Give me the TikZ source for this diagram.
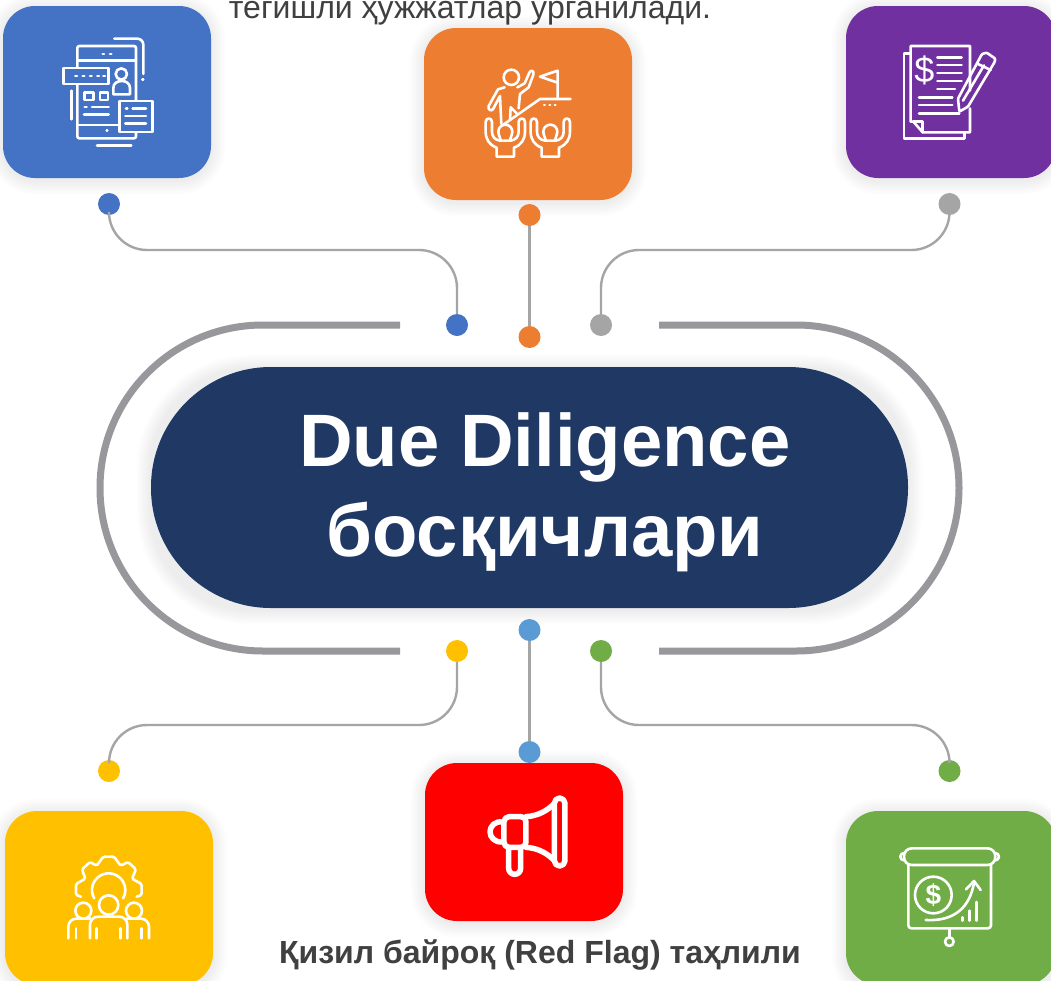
\documentclass[tikz,border=0pt]{standalone}
\usepackage{fontspec}
\setmainfont{Liberation Sans}
\definecolor{cblue}{HTML}{4472C4}
\definecolor{corange}{HTML}{ED7D31}
\definecolor{cpurple}{HTML}{7030A0}
\definecolor{cyellow}{HTML}{FFC000}
\definecolor{cred}{HTML}{FF0000}
\definecolor{cgreen}{HTML}{70AD47}
\definecolor{cgrey}{HTML}{A5A5A5}
\definecolor{clblue}{HTML}{5B9BD5}
\definecolor{cnavy}{HTML}{1F3864}
\definecolor{cring}{HTML}{98989C}
\definecolor{ctext}{HTML}{404040}
\newcommand{\softshade}[5]{%
  \foreach \i in {1,...,9}{%
    \fill[black,opacity=0.009,rounded corners={#5+\i*1.6pt}]
      ({#1-\i*1.6},{#2-\i*1.6+2}) rectangle ({#3+\i*1.6},{#4+\i*1.6+2});
  }}
\tikzset{
  card/.style={rectangle,rounded corners=32pt,inner sep=0pt,outer sep=0pt},
  dotn/.style={circle,inner sep=0pt,outer sep=0pt,minimum size=22pt},
  wire/.style={draw=cgrey,line width=2.4pt,rounded corners=38pt},
  straightwire/.style={draw=cgrey,line width=2.4pt},
  ring/.style={draw=cring,line width=7pt},
  ico/.style={draw=white,line width=2.6pt,line cap=round,line join=round},
  icob/.style={ico,line width=5.5pt},
}
\begin{document}
\begin{tikzpicture}[x=1pt,y=-1pt]
\useasboundingbox (0,0) rectangle (1051,980);
\clip (0,0) rectangle (1051,980);
\fill[white] (0,0) rectangle (1051,980);

% top clipped text
\node[anchor=base,text=ctext,font=\fontsize{32}{36}\selectfont,inner sep=0pt] (toptext) at (470,18) {тегишли ҳужжатлар ўрганилади.};

% shadows
\softshade{3}{6}{211}{178}{32pt}
\softshade{424}{28}{632}{200}{32pt}
\softshade{846}{6}{1056}{178}{32pt}
\softshade{5}{811}{213}{985}{32pt}
\softshade{425}{763}{623}{921}{32pt}
\softshade{846}{811}{1056}{985}{32pt}
\softshade{151}{367}{908}{608}{100pt}

% cards
\node[card,fill=cblue,minimum width=208pt,minimum height=172pt] (c1) at (107,92) {};
\node[card,fill=corange,minimum width=208pt,minimum height=172pt] (c2) at (528,114) {};
\node[card,fill=cpurple,minimum width=210pt,minimum height=172pt] (c3) at (951,92) {};
\node[card,fill=cyellow,minimum width=208pt,minimum height=174pt] (c4) at (109,898) {};
\node[card,fill=cred,minimum width=198pt,minimum height=158pt] (c5) at (524,842) {};
\node[card,fill=cgreen,minimum width=210pt,minimum height=174pt] (c6) at (951,898) {};

% ring
\coordinate (rl1) at (400,325);
\coordinate (rl2) at (400,651);
\coordinate (rr1) at (659,325);
\coordinate (rr2) at (659,651);
\draw[ring] (rl1) -- (263,325) arc[start angle=90,end angle=270,radius=163pt] -- (rl2);
\draw[ring] (rr1) -- (796,325) arc[start angle=90,end angle=-90,radius=163pt] -- (rr2);

% centre
\node[rectangle,rounded corners=120pt,fill=cnavy,minimum width=757pt,minimum height=241pt,inner sep=0pt] (hub) at (529.5,487.5) {};
\node[align=center,text=white,inner sep=0pt,font=\fontsize{74.3}{90}\selectfont\bfseries] (title) at (545,492) {Due Diligence\\босқичлари};

% dots
\node[dotn,fill=cblue] (d1a) at (109,204) {};
\node[dotn,fill=cblue] (d1b) at (457,325) {};
\node[dotn,fill=corange] (d2a) at (529.5,215) {};
\node[dotn,fill=corange] (d2b) at (529.5,337) {};
\node[dotn,fill=cgrey] (d3a) at (949.5,204) {};
\node[dotn,fill=cgrey] (d3b) at (601,325) {};
\node[dotn,fill=cyellow] (d4a) at (109,771) {};
\node[dotn,fill=cyellow] (d4b) at (457,651) {};
\node[dotn,fill=clblue] (d5a) at (529.5,752) {};
\node[dotn,fill=clblue] (d5b) at (529.5,630) {};
\node[dotn,fill=cgreen] (d6a) at (949.5,771) {};
\node[dotn,fill=cgreen] (d6b) at (601,651) {};

% connectors
\coordinate (m1) at (283,250);
\coordinate (m3) at (775,250);
\coordinate (m4) at (283,725);
\coordinate (m6) at (775,725);
\draw[wire] (d1a) |- (m1) -| (d1b);
\draw[wire] (d3a) |- (m3) -| (d3b);
\draw[wire] (d4a) |- (m4) -| (d4b);
\draw[wire] (d6a) |- (m6) -| (d6b);
\draw[straightwire] (d2a) -- (d2b);
\draw[straightwire] (d5a) -- (d5b);

% bottom text
\node[anchor=base,text=ctext,font=\fontsize{32}{36}\selectfont\bfseries,inner sep=0pt] (bottomtext) at (540,963) {Қизил байроқ (Red Flag) таҳлили};

% blue icon
\begin{scope}[scale=0.3333]
\draw[ico,rounded corners=2pt] (232,138) rectangle (408,415);
\draw[ico] (232,182) -- (408,182);
\draw[ico] (232,375) -- (408,375);
\draw[ico,rounded corners=6pt] (343,116) -- (430,116) -- (430,222);
\draw[ico] (427,238) -- (430,238);
\draw[ico] (308,162) -- (312,162);
\draw[ico] (330,162) -- (334,162);
\draw[ico,fill=cblue] (190,204) rectangle (326,252);
\foreach \xx in {226,248,270,292,310}{\draw[ico] (\xx,228) -- (\xx+5,228);}
\draw[ico] (364,222) circle[radius=17];
\draw[ico] (340,283) -- (340,264) .. controls (340,250) and (352,243) .. (365,243) .. controls (378,243) and (390,250) .. (390,264) -- (390,283) -- cycle;
\draw[ico] (254,278) rectangle (280,300);
\draw[ico] (300,278) rectangle (324,300);
\draw[ico] (254,321) -- (260,321);
\draw[ico] (276,321) -- (326,321);
\draw[ico] (252,343) -- (326,343);
\draw[ico] (214,272) -- (214,358);
\draw[ico] (291,436) -- (394,436);
\draw[ico] (320,392) -- (322,392);
\draw[ico,fill=cblue] (358,303) rectangle (458,396);
\draw[ico] (378,326) -- (382,326);
\draw[ico] (398,326) -- (438,326);
\draw[ico] (376,348) -- (438,348);
\draw[ico] (376,370) -- (438,370);
\end{scope}

% orange icon
\begin{scope}[shift={(400,0)},scale=0.3333]
\draw[ico] (334,232) circle[radius=23];
\draw[ico] (314,262) -- (294,268) -- (266,318) .. controls (262,330) and (276,336) .. (280,326) -- (300,288) -- (304,372);
\draw[ico] (352,262) -- (374,250) -- (388,218) .. controls (392,208) and (404,212) .. (400,224) -- (386,262) -- (360,282) -- (356,325);
\draw[ico] (330,360) -- (332,322) -- (350,340);
\draw[ico] (310,374) -- (420,297) -- (512,297);
\draw[ico] (473,297) -- (473,212) -- (420,230) -- (473,248);
\foreach \xx in {432,448,464}{\draw[ico,line width=2pt] (\xx,315) -- (\xx+3,315);}
\foreach \dx in {0,135}{
 \begin{scope}[shift={(\dx,0)}]
 \draw[ico] (290,470) -- (290,443) .. controls (268,435) and (257,418) .. (257,395) -- (257,366) .. controls (257,352) and (276,352) .. (276,366) -- (276,395) .. controls (276,410) and (285,420) .. (300,422) -- (332,422) .. controls (347,420) and (356,410) .. (356,395) -- (356,366) .. controls (356,352) and (375,352) .. (375,366) -- (375,395) .. controls (375,418) and (364,435) .. (342,443) -- (342,470) -- cycle;
 \draw[ico] (316,395) ++(200:21pt) arc[start angle=200,end angle=-20,radius=21pt];
 \draw[ico] (296,402) -- (302,420);
 \draw[ico] (336,402) -- (330,420);
 \end{scope}
}
\end{scope}

% purple icon
\begin{scope}[shift={(830,0)},scale=0.3333]
\draw[ico] (240,160) -- (222,160) -- (222,415) -- (403,415) -- (403,397);
\draw[ico] (420,272) -- (420,138) -- (242,138) -- (242,365) -- (250,365) -- (278,397) -- (420,397) -- (420,325);
\draw[ico] (250,365) -- (278,365) -- (278,397);
\node[text=white,inner sep=0pt,font=\fontsize{36}{36}\selectfont] (psign) at (283,211) {\$};
\foreach \yy in {172,195,219,243}{\draw[ico] (322,\yy) -- (395,\yy);}
\draw[ico] (322,267) -- (375,267);
\draw[ico] (267,292) -- (367,292);
\draw[ico] (267,315) -- (367,315);
\draw[ico] (267,340) -- (388,340);
\draw[ico,rounded corners=1pt] (388,335) -- (384,296) -- (456,162) -- (470,158) -- (496,176) -- (494,186) -- (414,320) -- cycle;
\draw[ico] (444,192) -- (482,210);
\draw[ico] (399,302) -- (462,196);
\end{scope}

% yellow icon
\begin{scope}[shift={(0,800)},scale=0.3333]
\draw[ico,rounded corners=1.5pt] (243,290) -- (228,285) -- (228,252) -- (256,236) -- (246,208) -- (270,186) -- (290,197) -- (310,170) -- (342,170) -- (362,197) -- (384,186) -- (408,208) -- (396,236) -- (425,252) -- (425,285) -- (410,290);
\draw[ico] (326,270) ++(210:50pt) arc[start angle=210,end angle=-30,radius=50pt];
\draw[ico] (326,315) circle[radius=29];
\draw[ico,rounded corners=8pt] (270,415) -- (270,350) -- (382,350) -- (382,415);
\draw[ico] (290,385) -- (290,415);
\draw[ico] (362,385) -- (362,415);
\draw[ico] (250,332) circle[radius=24];
\draw[ico] (402,332) circle[radius=24];
\draw[ico,rounded corners=8pt] (205,415) -- (205,356) -- (272,356);
\draw[ico,rounded corners=8pt] (447,415) -- (447,356) -- (380,356);
\draw[ico] (228,385) -- (228,415);
\draw[ico] (424,385) -- (424,415);
\end{scope}

% red icon
\begin{scope}[shift={(420,760)},scale=0.3333]
\draw[icob] (403,130) arc[start angle=180,end angle=0,radius=16pt] -- (435,302) arc[start angle=0,end angle=-180,radius=16pt] -- cycle;
\draw[icob,rounded corners=5pt] (318,170) -- (252,170) -- (252,262) -- (318,262) -- cycle;
\draw[icob] (318,170) .. controls (355,168) and (385,150) .. (403,130);
\draw[icob] (318,262) .. controls (355,264) and (385,282) .. (403,302);
\draw[icob] (250,187) .. controls (225,180) and (210,200) .. (210,215) .. controls (210,232) and (225,250) .. (250,245);
\draw[icob] (266,265) -- (266,325) arc[start angle=180,end angle=360,radius=18pt] -- (302,265);
\end{scope}

% green icon
\begin{scope}[shift={(830,800)},scale=0.3333]
\draw[ico] (222,170) .. controls (222,155) and (232,145) .. (246,145) -- (472,145) .. controls (486,145) and (496,155) .. (496,170) .. controls (496,185) and (486,195) .. (472,195) -- (246,195) .. controls (232,195) and (222,185) .. (222,170) -- cycle;
\draw[ico] (222,159) arc[start angle=90,end angle=270,radius=11pt];
\draw[ico] (496,159) arc[start angle=90,end angle=-90,radius=11pt];
\draw[ico,rounded corners=3pt] (235,195) -- (235,385) -- (483,385) -- (483,195);
\draw[ico] (358,385) -- (358,412);
\draw[ico] (358,425) circle[radius=13];
\draw[ico] (310,285) circle[radius=55];
\node[text=white,inner sep=0pt,font=\fontsize{28}{28}\selectfont\bfseries] (gsign) at (310,285) {\$};
\draw[ico] (287,360) .. controls (375,365) and (420,320) .. (432,248);
\draw[ico] (408,268) -- (432,243) -- (452,270);
\draw[ico] (397,352) -- (397,362);
\draw[ico] (418,332) -- (418,362);
\draw[ico] (440,306) -- (440,362);
\end{scope}
\end{tikzpicture}
\end{document}
